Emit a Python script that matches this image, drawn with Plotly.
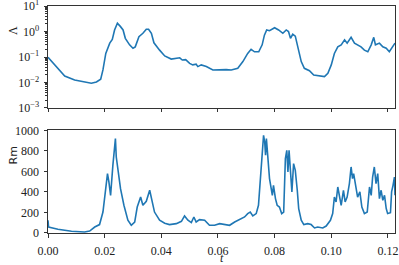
import plotly.graph_objects as go

# ---- data ----
t_lam = [0.0000, 0.0024, 0.0059, 0.0094, 0.0129, 0.0153, 0.0171, 0.0186, 0.0194, 0.0204,
         0.0218, 0.0227, 0.0235, 0.0245, 0.0256, 0.0265, 0.0273, 0.0288, 0.0300, 0.0308,
         0.0321, 0.0335, 0.0347, 0.0355, 0.0365, 0.0374, 0.0394, 0.0412, 0.0435, 0.0465,
         0.0474, 0.0486, 0.0500, 0.0511, 0.0523, 0.0529, 0.0541, 0.0559, 0.0582, 0.0606,
         0.0629, 0.0647, 0.0670, 0.0688, 0.0705, 0.0717, 0.0729, 0.0744, 0.0756, 0.0764,
         0.0772, 0.0782, 0.0800, 0.0814, 0.0829, 0.0841, 0.0849, 0.0856, 0.0864, 0.0873,
         0.0882, 0.0894, 0.0905, 0.0923, 0.0938, 0.0958, 0.0976, 0.0988, 0.1000, 0.1011,
         0.1023, 0.1035, 0.1047, 0.1056, 0.1070, 0.1082, 0.1093, 0.1105, 0.1117, 0.1129,
         0.1141, 0.1150, 0.1156, 0.1170, 0.1182, 0.1194, 0.1205, 0.1217, 0.1225]
lam = [0.098, 0.049, 0.018, 0.0126, 0.0102, 0.0093, 0.0105, 0.0135, 0.031, 0.138,
       0.35, 0.49, 1.15, 2.1, 1.55, 1.15, 0.54, 0.30, 0.22, 0.25,
       0.63, 0.85, 1.23, 1.23, 0.85, 0.36, 0.186, 0.11, 0.083, 0.093,
       0.076, 0.079, 0.056, 0.049, 0.052, 0.042, 0.049, 0.042, 0.031, 0.032,
       0.032, 0.031, 0.036, 0.066, 0.138, 0.20, 0.16, 0.16, 0.30, 0.72,
       1.15, 1.07, 1.41, 1.15, 0.85, 1.15, 1.0, 0.54, 0.78, 0.66,
       0.25, 0.066, 0.036, 0.029, 0.0195, 0.0178, 0.017, 0.023, 0.049, 0.138,
       0.25, 0.30, 0.47, 0.35, 0.59, 0.35, 0.30, 0.25, 0.186, 0.16,
       0.30, 0.59, 0.30, 0.35, 0.25, 0.22, 0.16, 0.25, 0.35]

t_rm = [0.0000, 0.0002, 0.0035, 0.0083, 0.0129, 0.0147, 0.0165, 0.0182, 0.0194, 0.0202,
        0.0210, 0.0215, 0.0221, 0.0229, 0.0233, 0.0238, 0.0241, 0.0247, 0.0256, 0.0268,
        0.0282, 0.0294, 0.0306, 0.0315, 0.0327, 0.0335, 0.0347, 0.0359, 0.0365, 0.0376,
        0.0394, 0.0412, 0.0429, 0.0453, 0.0471, 0.0482, 0.0494, 0.0506, 0.0515, 0.0523,
        0.0535, 0.0553, 0.0570, 0.0588, 0.0606, 0.0623, 0.0641, 0.0659, 0.0676, 0.0694,
        0.0705, 0.0714, 0.0723, 0.0735, 0.0743, 0.0750, 0.0756, 0.0761, 0.0765, 0.0768,
        0.0771, 0.0776, 0.0782, 0.0792, 0.0796, 0.0803, 0.0809, 0.0817, 0.0825, 0.0832,
        0.0838, 0.0843, 0.0847, 0.0851, 0.0856, 0.0861, 0.0867, 0.0873, 0.0880, 0.0885,
        0.0894, 0.0903, 0.0917, 0.0929, 0.0941, 0.0952, 0.0970, 0.0982, 0.0997, 0.1005,
        0.1011, 0.1017, 0.1023, 0.1029, 0.1035, 0.1043, 0.1049, 0.1056, 0.1064, 0.1070,
        0.1075, 0.1079, 0.1085, 0.1093, 0.1101, 0.1108, 0.1117, 0.1127, 0.1135, 0.1141,
        0.1146, 0.1152, 0.1158, 0.1164, 0.1170, 0.1176, 0.1182, 0.1188, 0.1194, 0.1199,
        0.1209, 0.1213, 0.1218, 0.1223, 0.1225]
rm = [124, 58, 36, 17, 10, 19, 58, 82, 204, 400,
      578, 497, 367, 659, 757, 919, 740, 594, 432, 270,
      124, 75, 107, 253, 350, 270, 309, 416, 335, 204,
      124, 95, 82, 91, 114, 166, 124, 101, 156, 107,
      130, 124, 75, 75, 91, 82, 75, 107, 133, 156,
      189, 204, 166, 189, 270, 562, 789, 951, 886, 757,
      919, 724, 530, 367, 464, 335, 270, 253, 189, 204,
      724, 805, 594, 805, 578, 400, 676, 610, 416, 238,
      124, 82, 91, 82, 49, 58, 49, 68, 124, 189,
      350, 302, 448, 367, 270, 416, 302, 350, 481, 643,
      530, 578, 464, 350, 400, 253, 189, 204, 448, 367,
      545, 643, 481, 578, 335, 416, 318, 367, 238, 189,
      198, 400, 464, 545, 367]

x_ticks = [0.00, 0.02, 0.04, 0.06, 0.08, 0.10, 0.12]
x_ticktext = ["0.00", "0.02", "0.04", "0.06", "0.08", "0.10", "0.12"]
lam_ticks = [1e-3, 1e-2, 1e-1, 1e0, 1e1]
lam_ticktext = ["10<sup>−3</sup>", "10<sup>−2</sup>", "10<sup>−1</sup>", "10<sup>0</sup>", "10<sup>1</sup>"]
rm_ticks = [0, 200, 400, 600, 800, 1000]

color = "#1f77b4"
serif = "'Liberation Serif', 'DejaVu Serif', serif"
frame = "#333333"

fig = go.Figure()
fig.add_trace(go.Scatter(x=t_lam, y=lam, mode="lines", line=dict(color=color, width=1.6),
                         xaxis="x", yaxis="y", showlegend=False))
fig.add_trace(go.Scatter(x=t_rm, y=rm, mode="lines", line=dict(color=color, width=1.6),
                         xaxis="x2", yaxis="y2", showlegend=False))

axis_common = dict(showgrid=False, zeroline=False, showline=True, linecolor=frame, linewidth=1,
                   mirror=True, ticks="outside", ticklen=3.5, tickwidth=0.8, tickcolor=frame,
                   automargin=False, ticklabeloverflow="allow",
                   tickfont=dict(family=serif, size=12, color="#222222"))

fig.update_layout(
    width=399, height=265,
    margin=dict(l=48, r=4, t=6, b=32),
    paper_bgcolor="white", plot_bgcolor="white",
    font=dict(family=serif, size=12, color="#222222"),
    xaxis=dict(domain=[0, 1], anchor="y", range=[0, 0.1225], tickvals=x_ticks,
               showticklabels=False, **axis_common),
    yaxis=dict(domain=[0.5507, 1], anchor="x", type="log", range=[-3, 1],
               tickvals=lam_ticks, ticktext=lam_ticktext, ticklabelstandoff=2,
               minor=dict(ticks="outside", ticklen=2, tickwidth=0.6, tickcolor=frame,
                          dtick="D1", showgrid=False),
               **axis_common),
    xaxis2=dict(domain=[0, 1], anchor="y2", range=[0, 0.1225], tickvals=x_ticks,
                ticktext=x_ticktext, ticklabelstandoff=3, **axis_common),
    yaxis2=dict(domain=[0, 0.4524], anchor="x2", range=[0, 1000], tickvals=rm_ticks,
                ticklabelstandoff=2, **axis_common),
    annotations=[
        dict(text="Λ", xref="paper", yref="paper", x=-44/347, y=(259-57)/227,
             xanchor="left", yanchor="middle", textangle=-90, showarrow=False,
             font=dict(family=serif, size=12, color="#222222")),
        dict(text="Rm", xref="paper", yref="paper", x=-44/347, y=(259-182)/227,
             xanchor="left", yanchor="middle", textangle=-90, showarrow=False,
             font=dict(family="DejaVu Sans", size=11, color="#222222")),
        dict(text="<i>t</i>", xref="paper", yref="paper", x=(222-48)/347, y=-(265-233)/227,
             xanchor="center", yanchor="bottom", yshift=-2, showarrow=False,
             font=dict(family=serif, size=12, color="#222222")),
    ],
)

fig.write_html("out.html", config={"displayModeBar": False},
               post_script="document.body.style.margin='0';document.body.style.overflow='hidden';")
